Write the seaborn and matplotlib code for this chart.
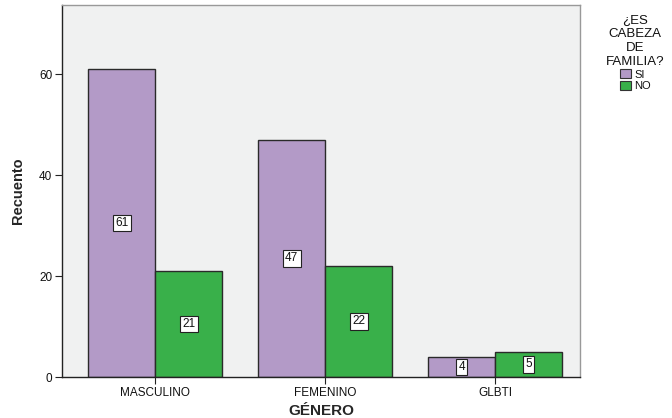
import pandas as pd
import matplotlib.pyplot as plt
import seaborn as sns

generos = ['MASCULINO', 'FEMENINO', 'GLBTI']
cabeza = ['SI', 'NO']
si_vals = [61, 47, 4]
no_vals = [21, 22, 5]

df = pd.DataFrame({
    'genero': generos * 2,
    'cabeza': ['SI'] * 3 + ['NO'] * 3,
    'recuento': si_vals + no_vals,
})

sns.set_style('white')
plt.rcParams['font.family'] = ['Liberation Sans', 'DejaVu Sans']
plt.rcParams['text.color'] = '#111111'

fig = plt.figure(figsize=(6.72, 4.18), dpi=100)
ax = fig.add_axes([62 / 672, 1 - 377 / 418, 518 / 672, 372 / 418])
ax.set_facecolor('#f0f1f1')

sns.barplot(data=df, x='genero', y='recuento', hue='cabeza', order=generos,
            hue_order=cabeza, palette=['#b39ac7', '#39b04a'], saturation=1,
            width=0.79, edgecolor='#2a2a2a', linewidth=1.0, ax=ax)

# value labels in the middle of each bar
for cont in ax.containers:
    ax.bar_label(cont, label_type='center', fontsize=8.5,
                 bbox=dict(boxstyle='square,pad=0.2', fc='white', ec='#222222', lw=0.8))

ax.set_xlim(-0.55, 2.5)
ax.set_ylim(0, 73.7)
ax.set_yticks([0, 20, 40, 60])
ax.tick_params(axis='both', direction='out', length=5, width=0.8, colors='#222222',
               labelcolor='#111111', labelsize=8.5, left=True, bottom=True, pad=2)
ax.set_ylabel('Recuento', fontsize=10.5, fontweight='bold', labelpad=10)
ax.set_xlabel('GÉNERO', fontsize=11, fontweight='bold', labelpad=4)

for side in ['left', 'bottom']:
    ax.spines[side].set_color('#222222')
    ax.spines[side].set_linewidth(1.0)
for side in ['top', 'right']:
    ax.spines[side].set_color('#999999')
    ax.spines[side].set_linewidth(1.0)

leg = ax.legend(title='¿ES\nCABEZA\nDE\nFAMILIA?', loc='upper left',
                bbox_to_anchor=(1.035, 0.995), frameon=False, fontsize=8,
                title_fontsize=9.5, handlelength=1.0, handleheight=0.9,
                handletextpad=0.3, labelspacing=0.1, borderaxespad=0.3)
leg.get_title().set_multialignment('center')
for h in leg.legend_handles:
    h.set_edgecolor('#333333')
    h.set_linewidth(0.8)

fig.savefig('out.png', dpi=100)
